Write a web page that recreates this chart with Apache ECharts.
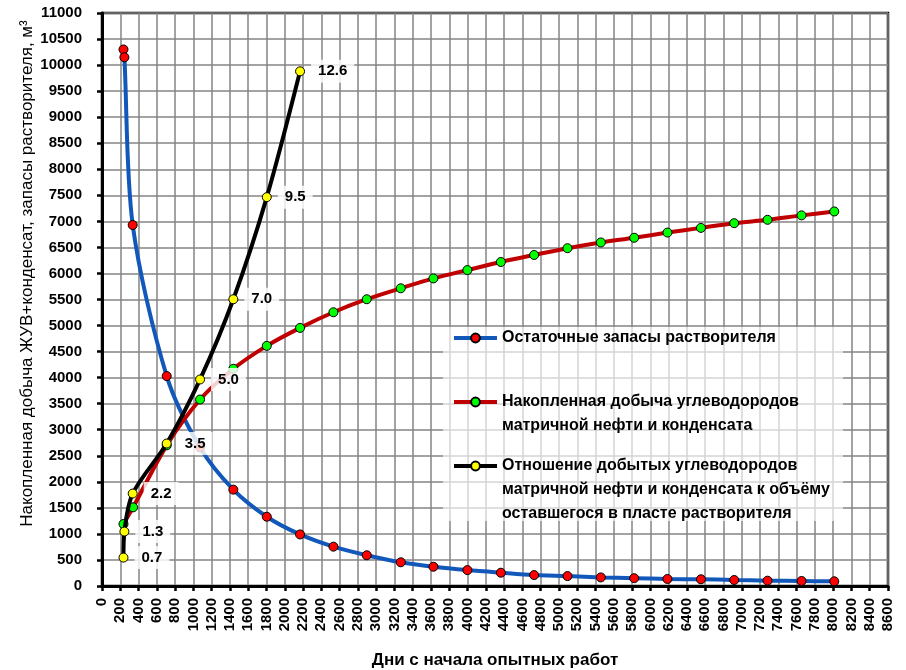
<!DOCTYPE html>
<html>
<head>
<meta charset="utf-8">
<script src="https://cdn.jsdelivr.net/npm/echarts@6/dist/echarts.min.js"></script>
<style>
html,body{margin:0;padding:0;background:#fff;}
#chart{width:906px;height:670px;}
</style>
</head>
<body>
<div id="chart"></div>
<script>
// ---- data ----
const seriesNames = [
  'Остаточные запасы растворителя',
  'Накопленная добыча углеводородов матричной нефти и конденсата',
  'Отношение добытых углеводородов матричной нефти и конденсата к объёму оставшегося в пласте растворителя'
];
const legendTexts = [
  'Остаточные запасы растворителя',
  'Накопленная добыча углеводородов\nматричной нефти и конденсата',
  'Отношение добытых углеводородов\nматричной нефти и конденсата к объёму\nоставшегося в пласте растворителя'
];
const reserveDays = [235, 245, 336, 708, 1073, 1437, 1803, 2167, 2532, 2897, 3269, 3626, 3998, 4364, 4728, 5093, 5458, 5823, 6187, 6553, 6917, 7282, 7654, 8012];
const reserveVals = [10300, 10150, 6930, 4030, 2660, 1850, 1330, 990, 755, 590, 455, 370, 305, 255, 210, 190, 165, 150, 135, 129, 115, 102, 96, 90];
const prodDays = [235, 340, 708, 1073, 1437, 1803, 2167, 2532, 2897, 3269, 3626, 3998, 4364, 4728, 5093, 5458, 5823, 6187, 6553, 6917, 7282, 7654, 8012];
const prodVals = [1190, 1510, 2700, 3580, 4170, 4610, 4955, 5255, 5505, 5715, 5905, 6065, 6220, 6355, 6485, 6595, 6685, 6785, 6875, 6965, 7030, 7115, 7190];
const ratioDays = [235, 245, 336, 708, 1073, 1437, 1803, 2167];
const ratioVals = [545, 1045, 1775, 2735, 3965, 5505, 7465, 9880];
const ratioLabels = ['0.7', '1.3', '2.2', '3.5', '5.0', '7.0', '9.5', '12.6'];
const xTitle = 'Дни с начала опытных работ';
const yTitle = 'Накопленная добыча ЖУВ+конденсат, запасы растворителя, м³';

function pairs(xs, ys) { return xs.map((x, i) => [x, ys[i]]); }

const FONT = 'Liberation Sans';
const chart = echarts.init(document.getElementById('chart'), null, {renderer: 'canvas'});

const LH = 24;
const legendIconY = [338, 402, 466];
function makeLegend(i) {
  const lines = legendTexts[i].split('\n');
  const n = lines.length;
  // blank lines in front keep the icon level with the first text line
  const txt = new Array(n - 1).fill(' ').concat(lines).join('\n');
  return {
    data: [seriesNames[i]],
    orient: 'vertical',
    left: 452,
    top: legendIconY[i] - (2 * n - 1) * LH / 2,
    padding: 0,
    z: 10,
    itemWidth: 43,
    itemHeight: 11,
    itemGap: 0,
    selectedMode: false,
    lineStyle: {width: 4},
    formatter: () => txt,
    textStyle: {
      fontFamily: FONT, fontSize: 16, fontWeight: 'bold', color: '#000',
      lineHeight: LH
    }
  };
}

const option = {
  backgroundColor: '#fff',
  animation: false,
  grid: {left: 102, right: 18, top: 13, bottom: 84, containLabel: false, outerBoundsMode: 'none',
         show: true, borderColor: '#000', borderWidth: 2.5, backgroundColor: 'transparent'},
  graphic: [{
    type: 'rect', left: 443, top: 327, z: 1,
    shape: {width: 400, height: 194},
    style: {fill: 'rgba(255,255,255,0.65)'}
  }],
  legend: [makeLegend(0), makeLegend(1), makeLegend(2)],
  xAxis: {
    type: 'value', min: 0, max: 8600, interval: 200,
    name: xTitle, nameLocation: 'middle', nameGap: 66, nameMoveOverlap: false,
    nameTextStyle: {fontFamily: FONT, fontSize: 17, fontWeight: 'bold', color: '#000'},
    axisLine: {show: true, onZero: false, lineStyle: {color: '#000', width: 3}},
    axisTick: {show: true, length: 5, lineStyle: {color: '#000', width: 2.5}},
    axisLabel: {rotate: 90, margin: 12, fontFamily: FONT, fontSize: 15, fontWeight: 'bold', color: '#000', formatter: v => String(v)},
    splitLine: {show: true, lineStyle: {color: '#858585', width: 1.5}}
  },
  yAxis: {
    type: 'value', min: 0, max: 11000, interval: 500,
    name: yTitle, nameLocation: 'middle', nameGap: 66, nameRotate: 90, nameMoveOverlap: false,
    nameTextStyle: {fontFamily: FONT, fontSize: 17, color: '#000', padding: [0, 0, 0, 52]},
    axisLine: {show: true, onZero: false, lineStyle: {color: '#000', width: 3}},
    axisTick: {show: true, length: 5, lineStyle: {color: '#000', width: 2.5}},
    axisLabel: {margin: 20, fontFamily: FONT, fontSize: 15, fontWeight: 'bold', color: '#000', formatter: v => String(v)},
    splitLine: {show: true, lineStyle: {color: '#858585', width: 1.5}}
  },
  series: [
    {
      name: seriesNames[0], type: 'line', data: pairs(reserveDays, reserveVals),
      smooth: 0.3, symbol: 'circle', symbolSize: 9, z: 3,
      lineStyle: {color: '#1258ba', width: 4},
      itemStyle: {color: '#ff0000', borderColor: '#000', borderWidth: 1}
    },
    {
      name: seriesNames[1], type: 'line', data: pairs(prodDays, prodVals),
      smooth: 0.3, symbol: 'circle', symbolSize: 9, z: 3,
      lineStyle: {color: '#c00000', width: 4},
      itemStyle: {color: '#00ff00', borderColor: '#000', borderWidth: 1}
    },
    {
      name: seriesNames[2], type: 'line', data: pairs(ratioDays, ratioVals),
      smooth: 0.3, symbol: 'circle', symbolSize: 9, z: 4,
      lineStyle: {color: '#000', width: 4},
      itemStyle: {color: '#ffff00', borderColor: '#000', borderWidth: 1},
      label: {
        show: true, position: 'right', distance: 6,
        formatter: p => ratioLabels[p.dataIndex],
        fontFamily: FONT, fontSize: 15, fontWeight: 'bold', color: '#000',
        backgroundColor: 'rgba(255,255,255,0.82)', padding: [4, 7, 4, 7]
      }
    }
  ]
};
chart.setOption(option);
</script>
</body>
</html>
